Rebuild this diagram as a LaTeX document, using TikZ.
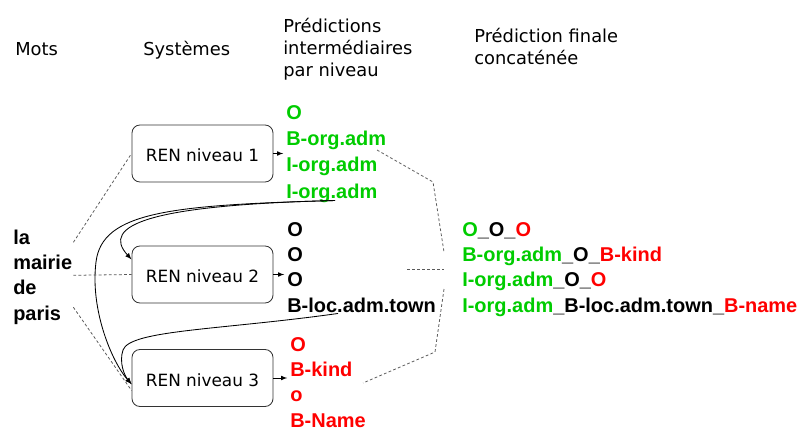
\documentclass[tikz,border=0pt]{standalone}
\usepackage{fontspec}
\setmainfont{DejaVu Sans}
\newfontfamily\tagfont{Liberation Sans}
\usetikzlibrary{arrows,shapes,positioning,calc}
\definecolor{vert}{RGB}{0,204,0}
\definecolor{rouge}{RGB}{255,0,0}

\begin{document}
\begin{tikzpicture}
[x=0.025cm,y=-0.025cm,
edge/.style={black,>=latex,line width=.6pt},
small/.style={black,>=latex,line width=.5pt,shorten >=2pt},
link/.style={black!65,dash pattern=on 2pt off 1.6pt,line width=.55pt},
block/.style={draw=black!80,line width=.6pt,rounded corners=.2cm,
minimum width=3.525cm,minimum height=1.425cm,text height=.42cm,text depth=0pt,
font=\fontsize{12}{14}\selectfont},
title/.style={anchor=base west,inner sep=0pt,align=left,
font=\fontsize{12.7}{15.6}\selectfont},
tag/.style={anchor=base west,inner sep=0pt,align=left,
font=\tagfont\bfseries\fontsize{14.2}{17.8}\selectfont}]
\useasboundingbox (0,0) rectangle (808,429);
%% titles (base = last line)
\node[title] (motsT) at (15,55) {Mots};
\node[title] (sysT) at (143,55) {Systèmes};
\node[title] (interT) at (283,76) {Prédictions\\intermédiaires\\par niveau};
\node[title] (finT) at (474,64) {Prédiction finale\\concaténée};
%%
\node[tag] (phrase) at (13,320) {la\\mairie\\de\\paris};
%%
\node[block] (ren1) at (202.5,153.5) {REN niveau 1};
\node[block] (ren2) at (202.5,274.5) {REN niveau 2};
\node[block] (ren3) at (202.5,378) {REN niveau 3};
%%
\node[tag,text=vert,font=\tagfont\bfseries\fontsize{14.2}{18.5}\selectfont]
(pred1) at (286,198) {O\\B-org.adm\\I-org.adm\\I-org.adm};
\node[tag] (pred2) at (287,312) {O\\O\\O\\B-loc.adm.town};
\node[tag,text=rouge] (pred3) at (290,427) {O\\B-kind\\o\\B-Name};
%%
\node[tag] (concat) at (462,312) {\textcolor{vert}{O}\_O\_\textcolor{rouge}{O}\\
\textcolor{vert}{B-org.adm}\_O\_\textcolor{rouge}{B-kind}\\
\textcolor{vert}{I-org.adm}\_O\_\textcolor{rouge}{O}\\
\textcolor{vert}{I-org.adm}\_B-loc.adm.town\_\textcolor{rouge}{B-name}};
%%
\draw[small,->] (ren1.east) -- (ren1.east -| pred1.west);
\draw[small,->] (ren2.east) -- (ren2.east -| pred2.west);
\draw[small,->] (ren3.east) -- (ren3.east -| pred3.west);
%%
\draw[link] ($(phrase.east)+(1,-35)$) -- (ren1.west);
\draw[link] ($(phrase.east)+(1,-2)$) -- (ren2.west);
\draw[link] ($(phrase.east)+(1,30)$) -- (ren3.190);
%%
\coordinate (from1) at ($(pred1.south west)+(49,-2)$);
\coordinate (from2) at ($(pred2.south west)+(51,1)$);
\draw[edge,->] (from1) .. controls (150,205) and (100,225) .. (ren2.168);
\draw[edge,->] (from1) .. controls (170,205) and (102,212) .. (96,262)
.. controls (90,310) and (112,362) .. (ren3.185);
\draw[edge,->] (from2) .. controls (220,330) and (130,330) .. (123,350)
.. controls (119,362) and (124,375) .. (ren3.185);
%%
\coordinate (brA) at (377,150);
\coordinate (brB) at (433,182);
\coordinate (brC) at (444,252);
\coordinate (brD) at (444,289);
\coordinate (brE) at (435,352);
\coordinate (brF) at (363,383);
\draw[link] (brA) -- (brB) -- (brC);
\draw[link] ($(concat.west)+(-55,0)$) coordinate (brM) -- (brM -| brC);
\draw[link] (brD) -- (brE) -- (brF);
\end{tikzpicture}
\end{document}
